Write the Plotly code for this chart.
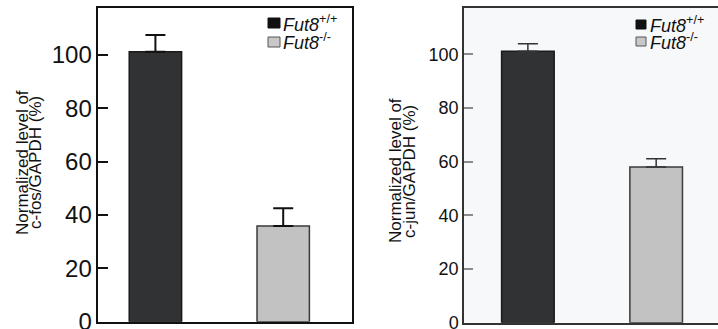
import plotly.graph_objects as go

# ---- data ----
genotypes = ["Fut8+/+", "Fut8-/-"]
legend_labels = ["<i>Fut8</i><sup>+/+</sup>", "<i>Fut8</i><sup>-/-</sup>"]
cfos_mean = [101.2, 35.9]
cfos_err = [6.3, 6.6]
cjun_mean = [101.2, 58.0]
cjun_err = [2.8, 3.1]
y_ticks = [0, 20, 40, 60, 80, 100]
left_title = ["Normalized level of", "c-fos/GAPDH (%)"]
right_title = ["Normalized level of", "c-jun/GAPDH (%)"]

W, H = 718, 329
FONT = "Liberation Sans, Arial, sans-serif"
bar_fill = ["#303234", "#c2c2c2"]
bar_line = ["#1a1a1a", "#3a3a3a"]

def px_x(p):
    return p / W

def px_y(p):
    return 1 - p / H

fig = go.Figure()

# left panel bars
for i in range(2):
    fig.add_trace(go.Bar(
        x=[i], y=[cfos_mean[i]], width=0.41,
        marker=dict(color=bar_fill[i], line=dict(color=bar_line[i], width=1.5)),
        error_y=dict(type="data", array=[cfos_err[i]], arrayminus=[0], symmetric=False,
                     color="#111111", thickness=2, width=10),
        xaxis="x", yaxis="y", showlegend=False, name=genotypes[i]))

# right panel bars
for i in range(2):
    fig.add_trace(go.Bar(
        x=[i], y=[cjun_mean[i]], width=0.41,
        marker=dict(color=bar_fill[i], line=dict(color=bar_line[i], width=1.5)),
        error_y=dict(type="data", array=[cjun_err[i]], arrayminus=[0], symmetric=False,
                     color="#333333", thickness=1.5, width=10),
        xaxis="x2", yaxis="y2", showlegend=False, name=genotypes[i]))

yr = [0, 117.5]
fig.update_layout(
    width=W, height=H,
    margin=dict(l=0, r=0, t=0, b=0, autoexpand=False),
    paper_bgcolor="white", plot_bgcolor="white",
    barmode="overlay", showlegend=False,
    font=dict(family=FONT, color="#111111"),
    xaxis=dict(domain=[px_x(98.3), px_x(351.7)], range=[-0.447, 1.536], automargin=False,
               showticklabels=False, ticks="", showgrid=False, zeroline=False,
               showline=True, linecolor="#111111", linewidth=1.5, mirror=True),
    yaxis=dict(domain=[px_y(321.7), px_y(8.3)], range=yr, tickvals=y_ticks, automargin=False,
               ticks="inside", ticklen=10, tickwidth=1.5, tickcolor="#111111",
               tickfont=dict(size=24, family=FONT, color="#111111"),
               ticklabeloverflow="allow",
               showgrid=False, zeroline=False,
               showline=True, linecolor="#111111", linewidth=1.5, mirror=True),
    xaxis2=dict(domain=[px_x(464), 1.0], range=[-0.498, 1.482], anchor="y2", automargin=False,
                showticklabels=False, ticks="", showgrid=False, zeroline=False,
                showline=True, linecolor="#333333", linewidth=1.5, mirror=True),
    yaxis2=dict(domain=[px_y(322.7), px_y(7.5)], range=yr, tickvals=y_ticks, anchor="x2",
                automargin=False,
                ticks="inside", ticklen=9, tickwidth=1.5, tickcolor="#8a8a8a",
                tickfont=dict(size=18, family=FONT, color="#111111"),
                ticklabeloverflow="allow",
                showgrid=False, zeroline=False,
                showline=True, linecolor="#333333", linewidth=1.5, mirror=False),
)

shapes = []
# right panel light background
shapes.append(dict(type="rect", xref="x2 domain", yref="y2 domain", x0=0, x1=1, y0=0, y1=1,
                   fillcolor="#f6f8fa", line=dict(width=0), layer="below"))

# legend swatches
def leg_square(x0, x1, y0, y1, fill, edge):
    return dict(type="rect", xref="paper", yref="paper",
                x0=px_x(x0), x1=px_x(x1), y0=px_y(y1), y1=px_y(y0),
                fillcolor=fill, line=dict(color=edge, width=1))

shapes.append(leg_square(268, 280, 18, 28, "#111111", "#111111"))
shapes.append(leg_square(268, 280, 37, 47, "#c8c8c8", "#555555"))
shapes.append(leg_square(636, 646, 20, 29, "#111111", "#111111"))
shapes.append(leg_square(636, 646, 37, 46, "#c8c8c8", "#555555"))
fig.update_layout(shapes=shapes)

ann = []
for lbl, x, y in [(legend_labels[0], 281, 23), (legend_labels[1], 281, 42),
                  (legend_labels[0], 648, 24.5), (legend_labels[1], 648, 41.5)]:
    ann.append(dict(text=lbl, xref="paper", yref="paper", x=px_x(x), y=px_y(y),
                    xanchor="left", yanchor="middle", showarrow=False,
                    font=dict(size=18, family=FONT, color="#111111")))

for lines, xs, yc in [(left_title, [22, 35], 163), (right_title, [395, 409], 171)]:
    for t, x in zip(lines, xs):
        ann.append(dict(text=t, xref="paper", yref="paper", x=px_x(x), y=px_y(yc),
                        xanchor="center", yanchor="middle", textangle=-90, showarrow=False,
                        font=dict(size=17, family=FONT, color="#111111")))
fig.update_layout(annotations=ann)

fig.write_html("out.html", config={"displayModeBar": False},
               post_script="document.body.style.margin='0';")
